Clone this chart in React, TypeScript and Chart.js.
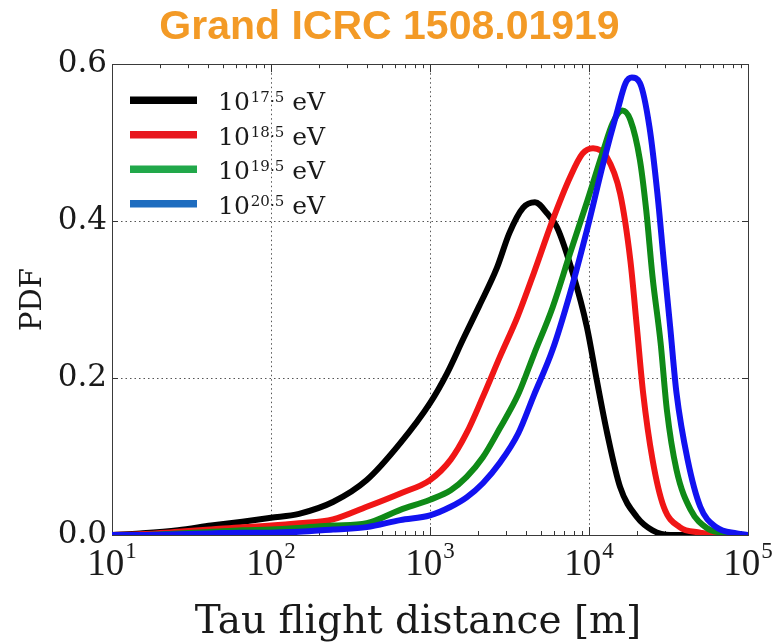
import React, { useEffect, useRef } from "react";
import { Chart, registerables } from "chart.js";

Chart.register(...registerables);

// ---- data ----
const blackDist = [10, 15, 26, 42, 66, 100, 150, 245, 400, 650, 1000, 1280, 1620, 2040, 2630, 3160, 3850, 4570, 5450, 6300, 7900, 9700, 11200, 13000, 15700, 20000, 25100, 32400, 100000];
const blackPdf = [0, 0.002, 0.006, 0.012, 0.017, 0.022, 0.027, 0.042, 0.070, 0.117, 0.168, 0.206, 0.250, 0.292, 0.340, 0.385, 0.417, 0.424, 0.410, 0.392, 0.334, 0.265, 0.197, 0.130, 0.061, 0.023, 0.006, 0, 0];

const redDist = [10, 15, 26, 42, 66, 100, 150, 245, 400, 650, 1000, 1350, 1700, 2150, 2750, 3550, 4500, 5900, 7600, 9100, 10600, 12900, 15700, 18200, 20000, 21900, 25100, 29500, 37200, 50100, 63100, 100000];
const redPdf = [0, 0.001, 0.004, 0.007, 0.010, 0.012, 0.015, 0.020, 0.036, 0.053, 0.070, 0.096, 0.130, 0.176, 0.227, 0.278, 0.334, 0.401, 0.456, 0.486, 0.493, 0.482, 0.435, 0.350, 0.265, 0.181, 0.096, 0.036, 0.010, 0.003, 0, 0];

const greenDist = [10, 15, 26, 42, 66, 100, 150, 245, 400, 650, 1000, 1350, 1700, 2150, 2750, 3600, 4500, 5900, 7600, 9800, 12300, 14100, 16200, 18200, 20900, 22900, 25100, 28200, 30900, 35500, 43600, 55000, 74100, 100000];
const greenPdf = [0, 0, 0.002, 0.004, 0.006, 0.007, 0.009, 0.012, 0.015, 0.032, 0.045, 0.057, 0.074, 0.099, 0.136, 0.180, 0.230, 0.290, 0.359, 0.427, 0.490, 0.525, 0.541, 0.529, 0.478, 0.414, 0.329, 0.245, 0.159, 0.083, 0.032, 0.009, 0.002, 0];

const blueDist = [10, 15, 26, 42, 66, 100, 150, 245, 400, 650, 1000, 1350, 1700, 2150, 2750, 3600, 4500, 5900, 7600, 9800, 12300, 15100, 17000, 18600, 20900, 24000, 26900, 29500, 32400, 35500, 41700, 50100, 63100, 85100, 100000];
const bluePdf = [0, 0, 0.001, 0.002, 0.003, 0.003, 0.004, 0.007, 0.010, 0.019, 0.025, 0.036, 0.048, 0.066, 0.092, 0.130, 0.178, 0.236, 0.308, 0.392, 0.474, 0.541, 0.576, 0.583, 0.576, 0.520, 0.436, 0.350, 0.265, 0.181, 0.096, 0.036, 0.010, 0.002, 0];

const legendBase = ["10", "10", "10", "10"];
const legendExps = ["17.5", "18.5", "19.5", "20.5"];
const legendUnit = " eV";

const xTicks = [10, 100, 1000, 10000, 100000];
const xTickExps = ["1", "2", "3", "4", "5"];
const xMinorMultipliers = [2, 3, 4, 5, 6, 7, 8, 9];
const yTicks = [0, 0.2, 0.4, 0.6];

const titleText = "Grand ICRC 1508.01919";
const xTitle = "Tau flight distance [m]";
const yTitle = "PDF";

// ---- styles ----
const lineColors = ["#000000", "#f01616", "#0f8a17", "#1212f0"];
const legendColors = ["#000000", "#e8161e", "#21a84a", "#1e6cbf"];
const serif = '"DejaVu Serif"';
const textColor = "#1a1a1a";

const series = [
  { dist: blackDist, pdf: blackPdf },
  { dist: redDist, pdf: redPdf },
  { dist: greenDist, pdf: greenPdf },
  { dist: blueDist, pdf: bluePdf },
];

const framePlugin = {
  id: "frameTicks",
  beforeDatasetsDraw(chart: any) {
    const { ctx, chartArea, scales } = chart;
    const { left, right, top, bottom } = chartArea;
    const x = scales.x;
    const y = scales.y;
    ctx.save();
    ctx.strokeStyle = "#333333";
    ctx.lineWidth = 1;
    ctx.beginPath();
    for (let i = 0; i < xTicks.length; i++) {
      const px = Math.round(x.getPixelForValue(xTicks[i])) + 0.5;
      ctx.moveTo(px, bottom);
      ctx.lineTo(px, bottom - 8);
      ctx.moveTo(px, top);
      ctx.lineTo(px, top + 8);
      if (i < xTicks.length - 1) {
        for (const m of xMinorMultipliers) {
          const mx = Math.round(x.getPixelForValue(xTicks[i] * m)) + 0.5;
          ctx.moveTo(mx, bottom);
          ctx.lineTo(mx, bottom - 4);
          ctx.moveTo(mx, top);
          ctx.lineTo(mx, top + 4);
        }
      }
    }
    for (const v of yTicks) {
      const py = Math.round(y.getPixelForValue(v)) + 0.5;
      ctx.moveTo(left, py);
      ctx.lineTo(left + 6, py);
      ctx.moveTo(right, py);
      ctx.lineTo(right - 6, py);
    }
    ctx.stroke();
    ctx.strokeStyle = "#3a3a3a";
    ctx.strokeRect(Math.round(left) + 0.5, Math.round(top) + 0.5, Math.round(right - left), Math.round(bottom - top));
    ctx.restore();
  },
  afterDraw(chart: any) {
    const { ctx, chartArea, scales } = chart;
    const { left, top, bottom } = chartArea;
    const x = scales.x;
    ctx.save();
    ctx.fillStyle = textColor;
    ctx.textAlign = "left";
    ctx.textBaseline = "alphabetic";
    // x tick labels 10^n
    const bigFont = '37px "Liberation Serif"';
    const supFont = '23px "Liberation Serif"';
    for (let i = 0; i < xTicks.length; i++) {
      const px = x.getPixelForValue(xTicks[i]);
      ctx.font = bigFont;
      const bw = ctx.measureText("10").width;
      ctx.font = supFont;
      const ew = ctx.measureText(xTickExps[i]).width;
      const sx = px - (bw + 1 + ew) / 2;
      ctx.font = bigFont;
      ctx.fillText("10", sx, bottom + 40);
      ctx.font = supFont;
      ctx.fillText(xTickExps[i], sx + bw + 1, bottom + 23);
    }
    // x axis title
    ctx.font = "39px " + serif;
    ctx.textAlign = "center";
    ctx.fillText(xTitle, 418, bottom + 98);
    ctx.textAlign = "left";
    // legend
    for (let i = 0; i < legendExps.length; i++) {
      const yy = top + 36 + i * 34.5;
      ctx.strokeStyle = legendColors[i];
      ctx.lineWidth = 7.5;
      ctx.lineCap = "butt";
      ctx.beginPath();
      ctx.moveTo(left + 18, yy);
      ctx.lineTo(left + 85, yy);
      ctx.stroke();
      let tx = left + 106;
      ctx.fillStyle = textColor;
      ctx.font = "25px " + serif;
      ctx.fillText(legendBase[i], tx, yy + 10);
      tx += ctx.measureText(legendBase[i]).width + 1;
      ctx.font = "15px " + serif;
      ctx.fillText(legendExps[i], tx, yy + 2);
      tx += ctx.measureText(legendExps[i]).width;
      ctx.font = "25px " + serif;
      ctx.fillText(legendUnit, tx, yy + 10);
    }
    ctx.restore();
  },
};

export default function App() {
  const canvasRef = useRef<HTMLCanvasElement | null>(null);

  useEffect(() => {
    if (!canvasRef.current) return;
    const datasets = series.map((s, i) => ({
      label: legendBase[i] + "^" + legendExps[i] + legendUnit,
      data: s.dist.map((d, j) => ({ x: d, y: s.pdf[j] })),
      borderColor: lineColors[i],
      backgroundColor: lineColors[i],
      borderWidth: 6,
      pointRadius: 0,
      fill: false,
      cubicInterpolationMode: "monotone" as const,
      order: series.length - 1 - i,
    }));

    const chart = new Chart(canvasRef.current, {
      type: "line",
      data: { datasets },
      plugins: [framePlugin],
      options: {
        responsive: false,
        animation: false,
        events: [],
        layout: { padding: 0 },
        plugins: {
          legend: { display: false },
          tooltip: { enabled: false },
          title: {
            display: true,
            text: titleText,
            color: "#f39a26",
            font: { family: '"Liberation Sans"', size: 41, weight: "bold", lineHeight: 1.2 },
            padding: { top: 3, bottom: 12 },
          },
        },
        scales: {
          x: {
            type: "logarithmic",
            min: 10,
            max: 100000,
            afterBuildTicks: (s: any) => {
              s.ticks = xTicks.map((v) => ({ value: v }));
            },
            afterFit: (s: any) => {
              s.height = 108;
            },
            ticks: { display: false },
            grid: { color: "#555555", lineWidth: 1, drawTicks: false },
            border: { display: false, dash: [1.5, 3] },
            title: { display: false },
          },
          y: {
            type: "linear",
            min: 0,
            max: 0.6,
            afterBuildTicks: (s: any) => {
              s.ticks = yTicks.map((v) => ({ value: v }));
            },
            afterFit: (s: any) => {
              s.width = 112;
            },
            ticks: {
              color: textColor,
              padding: 5,
              font: { family: serif, size: 31 },
              callback: (v: any) => Number(v).toFixed(1),
            },
            grid: { color: "#555555", lineWidth: 1, drawTicks: false },
            border: { display: false, dash: [1.5, 3] },
            title: {
              display: true,
              text: yTitle,
              color: textColor,
              font: { family: serif, size: 29, lineHeight: 1.2 },
              padding: { top: 16, bottom: 0 },
            },
          },
          yRight: {
            type: "linear",
            position: "right",
            display: true,
            afterFit: (s: any) => {
              s.width = 31;
            },
            ticks: { display: false },
            grid: { display: false, drawTicks: false },
            border: { display: false },
          },
        },
      },
    });
    return () => chart.destroy();
  }, []);

  return (
    <div style={{ position: "absolute", left: 0, top: 0, width: 779, height: 643, background: "#ffffff" }}>
      <canvas ref={canvasRef} width={779} height={643} style={{ display: "block" }} />
    </div>
  );
}
